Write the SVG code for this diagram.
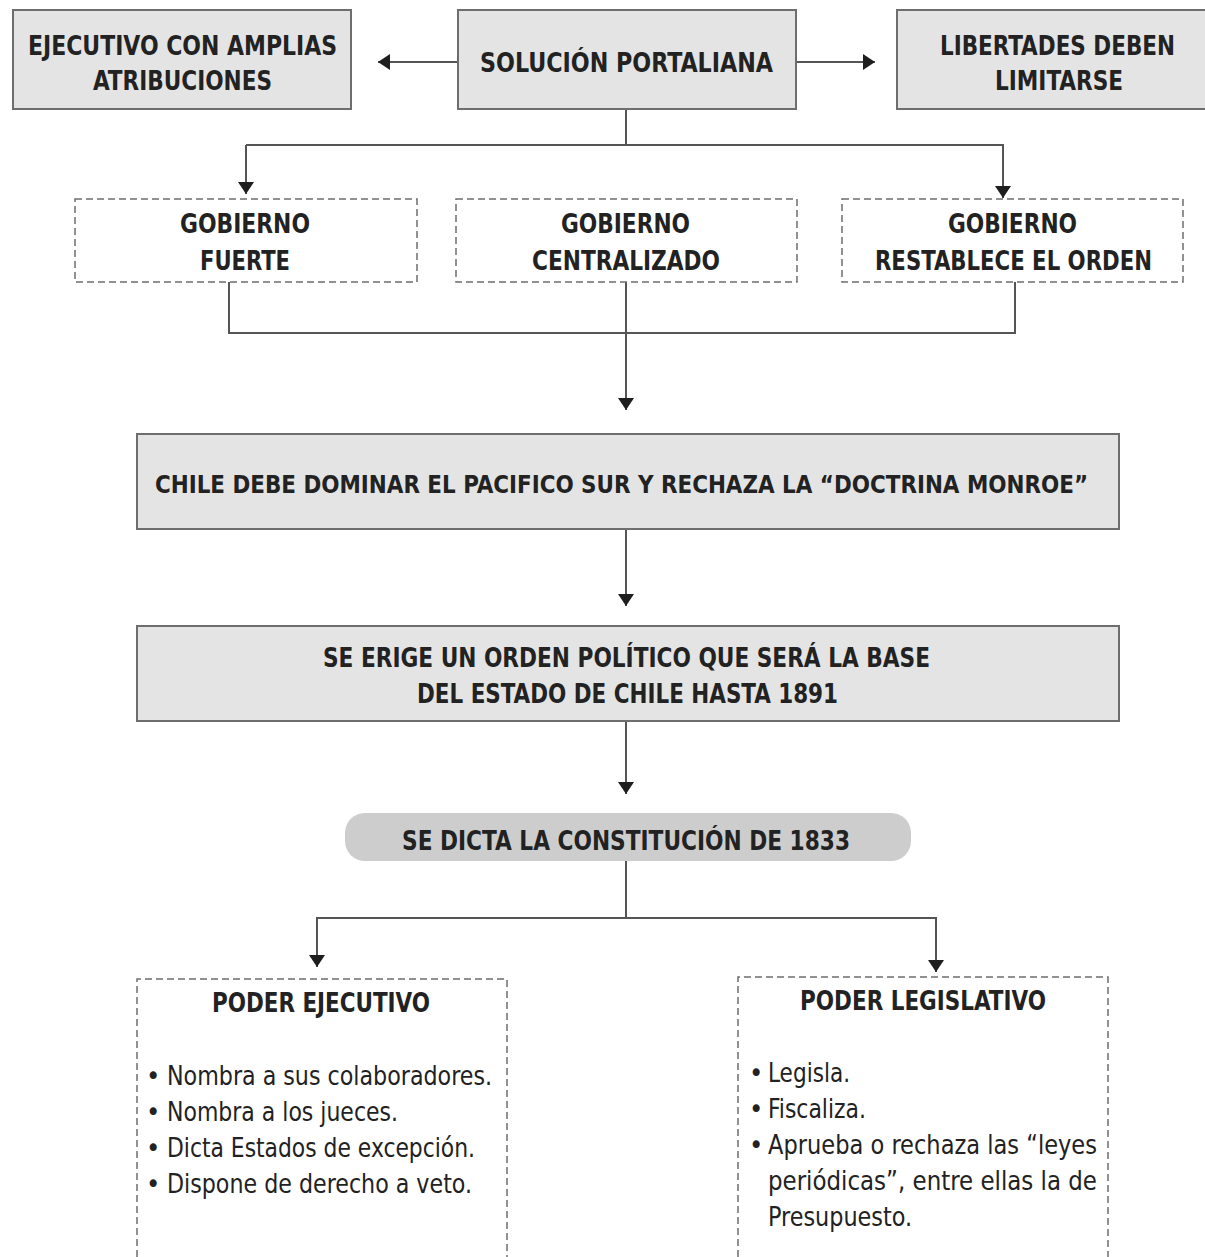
<svg xmlns="http://www.w3.org/2000/svg" width="1205" height="1257" viewBox="0 0 1205 1257">
<defs>
<style>
.box{fill:#e4e4e4;stroke:#6e6e6e;stroke-width:2}
.pill{fill:#cdcdcd;stroke:none}
.dash{fill:#fff;stroke:#6e6e6e;stroke-width:1.5;stroke-dasharray:7 4}
.ln{fill:none;stroke:#555;stroke-width:2}
.hd{fill:#222;font-family:"DejaVu Sans Condensed","Liberation Sans Narrow","Liberation Sans",sans-serif;font-stretch:condensed;font-weight:bold;font-size:27px}
.bt{fill:#222;font-family:"DejaVu Sans Condensed","Liberation Sans Narrow","Liberation Sans",sans-serif;font-stretch:condensed;font-size:27px}
</style>
<marker id="ah" viewBox="0 0 12 16" refX="12" refY="8" markerWidth="12" markerHeight="16" markerUnits="userSpaceOnUse" orient="auto">
<path d="M0,0 L12,8 L0,16 Z" fill="#1e1e1e"/>
</marker>
</defs>
<rect width="1205" height="1257" fill="#fff"/>
<g id="connectors">
<line class="ln" x1="458" y1="62" x2="378" y2="62" marker-end="url(#ah)"/>
<line class="ln" x1="796" y1="62" x2="875" y2="62" marker-end="url(#ah)"/>
<line class="ln" x1="626" y1="109" x2="626" y2="145"/>
<path class="ln" d="M246,145 H1003 V198" marker-end="url(#ah)"/>
<line class="ln" x1="246" y1="145" x2="246" y2="194" marker-end="url(#ah)"/>
<path class="ln" d="M229,282 V333 H1015 V282"/>
<line class="ln" x1="626" y1="282" x2="626" y2="410" marker-end="url(#ah)"/>
<line class="ln" x1="626" y1="529" x2="626" y2="606" marker-end="url(#ah)"/>
<line class="ln" x1="626" y1="721" x2="626" y2="794" marker-end="url(#ah)"/>
<line class="ln" x1="626" y1="861" x2="626" y2="918"/>
<path class="ln" d="M317,918 H936"/>
<line class="ln" x1="317" y1="917" x2="317" y2="967" marker-end="url(#ah)"/>
<line class="ln" x1="936" y1="917" x2="936" y2="972" marker-end="url(#ah)"/>
</g>
<g id="ejecutivo-amplias">
<rect class="box" x="13" y="10" width="338" height="99"/>
<text class="hd" x="28" y="55" textLength="309" lengthAdjust="spacingAndGlyphs">EJECUTIVO CON AMPLIAS</text>
<text class="hd" x="93" y="90" textLength="179" lengthAdjust="spacingAndGlyphs">ATRIBUCIONES</text>
</g>
<g id="solucion-portaliana">
<rect class="box" x="458" y="10" width="338" height="99"/>
<text class="hd" x="480" y="72" textLength="293" lengthAdjust="spacingAndGlyphs">SOLUCIÓN PORTALIANA</text>
</g>
<g id="libertades">
<rect class="box" x="897" y="10" width="320" height="99"/>
<text class="hd" x="940" y="55" textLength="235" lengthAdjust="spacingAndGlyphs">LIBERTADES DEBEN</text>
<text class="hd" x="995" y="90" textLength="128" lengthAdjust="spacingAndGlyphs">LIMITARSE</text>
</g>
<g id="gobierno-fuerte">
<rect class="dash" x="75" y="199" width="342" height="83"/>
<text class="hd" x="180" y="233" textLength="130" lengthAdjust="spacingAndGlyphs">GOBIERNO</text>
<text class="hd" x="200" y="270" textLength="90" lengthAdjust="spacingAndGlyphs">FUERTE</text>
</g>
<g id="gobierno-centralizado">
<rect class="dash" x="456" y="199" width="341" height="83"/>
<text class="hd" x="561" y="233" textLength="129" lengthAdjust="spacingAndGlyphs">GOBIERNO</text>
<text class="hd" x="532" y="270" textLength="188" lengthAdjust="spacingAndGlyphs">CENTRALIZADO</text>
</g>
<g id="gobierno-orden">
<rect class="dash" x="842" y="199" width="341" height="83"/>
<text class="hd" x="948" y="233" textLength="129" lengthAdjust="spacingAndGlyphs">GOBIERNO</text>
<text class="hd" x="875" y="270" textLength="277" lengthAdjust="spacingAndGlyphs">RESTABLECE EL ORDEN</text>
</g>
<g id="chile-pacifico">
<rect class="box" x="137" y="434" width="982" height="95"/>
<text class="hd" x="155" y="493" style="font-size:25px" textLength="933" lengthAdjust="spacingAndGlyphs">CHILE DEBE DOMINAR EL PACIFICO SUR Y RECHAZA LA “DOCTRINA MONROE”</text>
</g>
<g id="orden-politico">
<rect class="box" x="137" y="626" width="982" height="95"/>
<text class="hd" x="323" y="667" textLength="607" lengthAdjust="spacingAndGlyphs">SE ERIGE UN ORDEN POLÍTICO QUE SERÁ LA BASE</text>
<text class="hd" x="417" y="703" textLength="421" lengthAdjust="spacingAndGlyphs">DEL ESTADO DE CHILE HASTA 1891</text>
</g>
<g id="constitucion-1833">
<rect class="pill" x="345" y="813" width="566" height="48" rx="20" ry="20"/>
<text class="hd" x="402" y="850" textLength="448" lengthAdjust="spacingAndGlyphs">SE DICTA LA CONSTITUCIÓN DE 1833</text>
</g>
<g id="poder-ejecutivo">
<path class="dash" d="M137,1257 V979 H507 V1257"/>
<text class="hd" x="212" y="1012" textLength="218" lengthAdjust="spacingAndGlyphs">PODER EJECUTIVO</text>
<text class="bt" x="146" y="1085">•</text>
<text class="bt" x="167" y="1085" textLength="325" lengthAdjust="spacingAndGlyphs">Nombra a sus colaboradores.</text>
<text class="bt" x="146" y="1121">•</text>
<text class="bt" x="167" y="1121" textLength="231" lengthAdjust="spacingAndGlyphs">Nombra a los jueces.</text>
<text class="bt" x="146" y="1157">•</text>
<text class="bt" x="167" y="1157" textLength="308" lengthAdjust="spacingAndGlyphs">Dicta Estados de excepción.</text>
<text class="bt" x="146" y="1193">•</text>
<text class="bt" x="167" y="1193" textLength="305" lengthAdjust="spacingAndGlyphs">Dispone de derecho a veto.</text>
</g>
<g id="poder-legislativo">
<path class="dash" d="M738,1257 V977 H1108 V1257"/>
<text class="hd" x="800" y="1010" textLength="246" lengthAdjust="spacingAndGlyphs">PODER LEGISLATIVO</text>
<text class="bt" x="749" y="1082">•</text>
<text class="bt" x="768" y="1082" textLength="82" lengthAdjust="spacingAndGlyphs">Legisla.</text>
<text class="bt" x="749" y="1118">•</text>
<text class="bt" x="768" y="1118" textLength="98" lengthAdjust="spacingAndGlyphs">Fiscaliza.</text>
<text class="bt" x="749" y="1154">•</text>
<text class="bt" x="768" y="1154" textLength="329" lengthAdjust="spacingAndGlyphs">Aprueba o rechaza las “leyes</text>
<text class="bt" x="768" y="1190" textLength="329" lengthAdjust="spacingAndGlyphs">periódicas”, entre ellas la de</text>
<text class="bt" x="768" y="1226" textLength="144" lengthAdjust="spacingAndGlyphs">Presupuesto.</text>
</g>
</svg>
